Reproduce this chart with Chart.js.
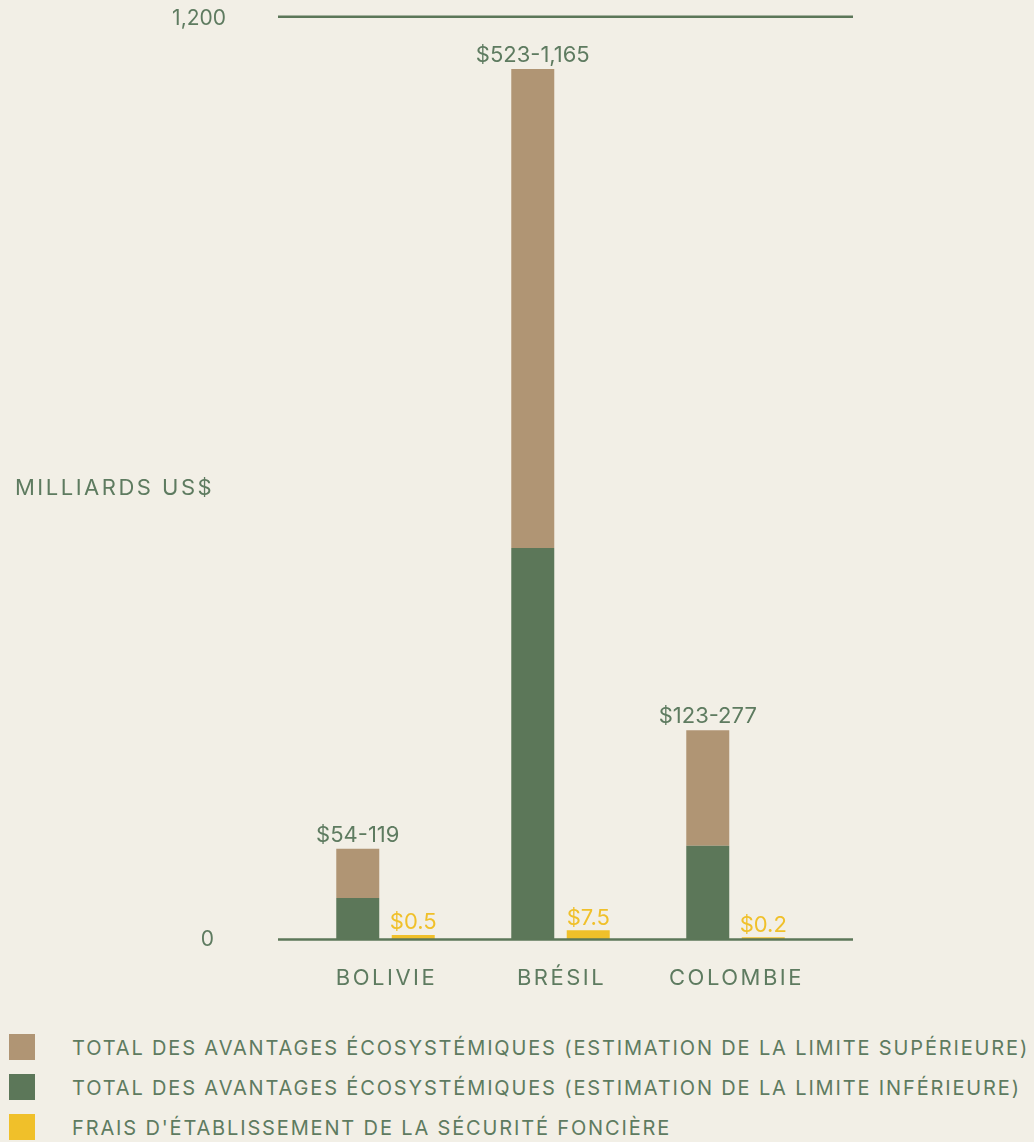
<!DOCTYPE html>
<html>
<head>
<meta charset="utf-8">
<script src="https://cdn.jsdelivr.net/npm/chart.js@4"></script>
<style>
  body { margin: 0; background: #f2efe6; font-family: Inter, sans-serif; }
  #wrap { position: relative; width: 1034px; height: 1142px; }
  #legende { position: absolute; left: 0; top: 1034px; }
  .item { position: relative; height: 40px; }
  .box { position: absolute; left: 9px; top: 0; width: 26px; height: 26px; }
  .txt { position: absolute; left: 72px; top: 1px; white-space: nowrap; font-size: 20px;
         line-height: 26px; letter-spacing: 1.85px; color: #5e7b60; }
</style>
</head>
<body>
<div id="wrap">
  <canvas id="graphique" width="1034" height="1010"></canvas>
  <div id="legende"></div>
</div>
<script>
var pays = ["BOLIVIE", "BRÉSIL", "COLOMBIE"];
var basse = [54, 509, 122];        // estimation limite inférieure (hauteur lue)
var haute = [118, 1132, 272];      // estimation limite supérieure (hauteur lue)
var frais = [6, 12, 3];            // frais de sécurité foncière (hauteur lue)
var etiquettesTotal = ["$54-119", "$523-1,165", "$123-277"];
var etiquettesFrais = ["$0.5", "$7.5", "$0.2"];
var ticksY = [0, 1200];
var nomsSeries = [
  "TOTAL DES AVANTAGES ÉCOSYSTÉMIQUES (ESTIMATION DE LA LIMITE SUPÉRIEURE)",
  "TOTAL DES AVANTAGES ÉCOSYSTÉMIQUES (ESTIMATION DE LA LIMITE INFÉRIEURE)",
  "FRAIS D'ÉTABLISSEMENT DE LA SÉCURITÉ FONCIÈRE",
];

var vert = "#5c7759";
var beige = "#b09574";
var jaune = "#f0c02a";
var texte = "#5e7b60";

var ecart = haute.map(function (v, i) { return v - basse[i]; });

var dessin = {
  id: "dessin",
  afterDatasetsDraw: function (chart) {
    var ctx = chart.ctx;
    var y = chart.scales.y;
    var area = chart.chartArea;
    ctx.save();

    // lignes 0 et 1,200
    ctx.strokeStyle = vert;
    ctx.lineWidth = 2.5;
    ticksY.forEach(function (t) {
      var py = y.getPixelForValue(t);
      ctx.beginPath();
      ctx.moveTo(area.left - 20, py);
      ctx.lineTo(area.right + 30, py);
      ctx.stroke();
    });

    // libellés de l'axe y
    ctx.fillStyle = texte;
    ctx.font = "21px Inter";
    ctx.textBaseline = "middle";
    ctx.textAlign = "right";
    ctx.fillText("1,200", 226, y.getPixelForValue(1200) + 2);
    ctx.fillText("0", 214, y.getPixelForValue(0));

    ctx.letterSpacing = "2.5px";
    ctx.font = "22px Inter";
    ctx.textAlign = "left";
    ctx.fillText("MILLIARDS US$", 15, (y.top + y.bottom) / 2 + 10);

    // noms des pays
    var metaBas = chart.getDatasetMeta(0);
    var metaHaut = chart.getDatasetMeta(1);
    var metaFrais = chart.getDatasetMeta(2);
    ctx.textAlign = "center";
    pays.forEach(function (p, i) {
      var cx = (metaBas.data[i].x + metaFrais.data[i].x) / 2 + 1;
      ctx.fillText(p, cx, 978);
    });

    // étiquettes des barres
    ctx.letterSpacing = "0px";
    ctx.font = "22px Inter";
    ctx.textBaseline = "alphabetic";
    metaHaut.data.forEach(function (bar, i) {
      ctx.fillStyle = texte;
      ctx.fillText(etiquettesTotal[i], bar.x, bar.y - 7);
    });
    metaFrais.data.forEach(function (bar, i) {
      ctx.fillStyle = jaune;
      ctx.fillText(etiquettesFrais[i], bar.x, bar.y - 5.5);
    });
    ctx.restore();
  },
};

new Chart(document.getElementById("graphique"), {
  type: "bar",
  data: {
    labels: pays,
    datasets: [
      { label: nomsSeries[1], data: basse, backgroundColor: vert, stack: "total" },
      { label: nomsSeries[0], data: ecart, backgroundColor: beige, stack: "total" },
      { label: nomsSeries[2], data: frais, backgroundColor: jaune, stack: "frais" },
    ],
  },
  options: {
    responsive: false,
    animation: false,
    categoryPercentage: 0.634,
    barPercentage: 0.775,
    layout: { padding: { left: 298, right: 211, top: 16.7, bottom: 70.5 } },
    plugins: { legend: { display: false }, tooltip: { enabled: false } },
    scales: {
      x: { display: false, stacked: true },
      y: { display: false, stacked: true, min: 0, max: 1200 },
    },
  },
  plugins: [dessin],
});

// légende
var couleurs = [beige, vert, jaune];
var legende = document.getElementById("legende");
nomsSeries.forEach(function (nom, i) {
  var item = document.createElement("div");
  item.className = "item";
  item.innerHTML = '<div class="box" style="background:' + couleurs[i] + '"></div><div class="txt">' + nom + "</div>";
  legende.appendChild(item);
});
</script>
</body>
</html>
